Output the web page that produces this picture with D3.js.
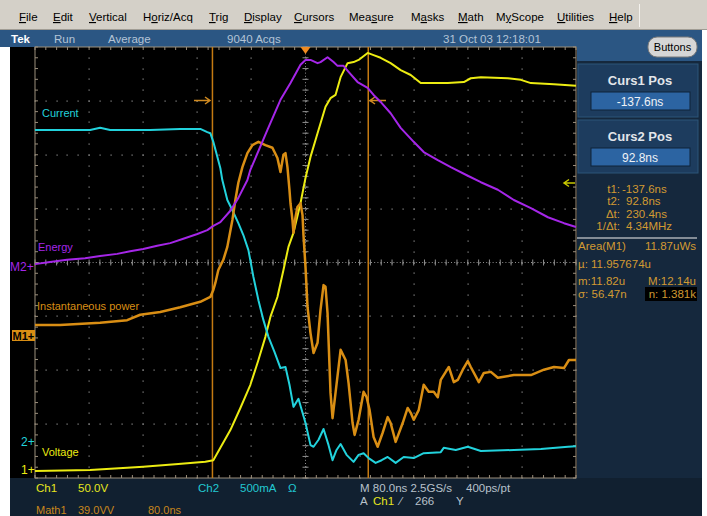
<!DOCTYPE html>
<html>
<head>
<meta charset="utf-8">
<script src="https://cdnjs.cloudflare.com/ajax/libs/d3/7.8.5/d3.min.js"></script>
<style>
  body { margin: 0; background: #fff; }
  svg { display: block; font-family: "Liberation Sans", Arial, sans-serif; }
</style>
</head>
<body>
<div id="scope"></div>
<script>
// time in ns (80 ns/div, trigger at 0), values in screen divisions
var currentT = [-400,-318.5,-303.7,-288.9,-229.6,-185.2,-155.6,-145.2,-140.7,-136.3,-125.9,-123,-115.6,-108.1,-99.3,-91.9,-84.4,-77,-69.6,-62.2,-54.8,-45.9,-37,-29.6,-23.7,-17.8,-10.4,0,7.4,11.9,19.3,26.7,34.1,40,45.9,51.9,60.7,71.1,78.5,85.9,93.3,103.7,112.6,121.5,133.3,145.2,160,174.8,200,204.4,222.2,240,259.3,308.1,348.1,388.1,400];
var currentV = [2.46,2.46,2.50,2.46,2.46,2.48,2.48,2.42,2.40,2.24,1.75,1.53,1.16,0.97,0.73,0.51,0.23,-0.27,-0.70,-1.07,-1.38,-1.66,-1.96,-1.94,-2.27,-2.68,-2.53,-2.98,-3.39,-3.42,-3.29,-3.09,-3.39,-3.67,-3.48,-3.37,-3.57,-3.70,-3.57,-3.54,-3.63,-3.72,-3.67,-3.61,-3.72,-3.61,-3.63,-3.54,-3.52,-3.44,-3.48,-3.42,-3.50,-3.48,-3.46,-3.42,-3.41];

var energyT = [-400,-377.8,-352.6,-325.9,-303.7,-278.5,-259.3,-240,-219.3,-200,-180.7,-160,-145.2,-136.3,-125.9,-111.1,-99.3,-85.9,-81.5,-56.3,-37,-22.2,-7.4,0,7.4,17.8,22.2,32.6,41.5,47.4,56.3,63.7,77,91.9,100.7,111.1,125.9,140.7,160,174.8,195.6,214.8,240,259.3,284.4,308.1,333.3,358.5,382.2,400];
var energyV = [-0.03,0.01,0.05,0.08,0.12,0.16,0.21,0.25,0.31,0.36,0.44,0.53,0.60,0.68,0.75,0.96,1.20,1.53,1.72,2.46,3.02,3.33,3.67,3.76,3.76,3.70,3.72,3.81,3.72,3.65,3.65,3.54,3.35,3.24,3.11,2.98,2.77,2.50,2.24,2.05,1.90,1.77,1.61,1.49,1.35,1.16,1.01,0.84,0.73,0.66];

var voltageT = [-400,-318.5,-263.7,-240,-188.1,-148.1,-136.3,-125.9,-111.1,-96.3,-81.5,-69.6,-59.3,-51.9,-41.5,-32.6,-25.2,-17.8,-7.4,0,7.4,17.8,29.6,37,44.4,51.9,62.2,71.1,78.5,91.9,100.7,111.1,125.9,140.7,155.6,170.4,210.4,234.1,244.4,259.3,299.3,318.5,333.3,367.4,400];
var voltageV = [-3.87,-3.85,-3.81,-3.79,-3.74,-3.70,-3.67,-3.44,-3.11,-2.70,-2.27,-1.81,-1.38,-1.01,-0.64,-0.14,0.29,0.55,1.10,1.57,1.96,2.40,2.89,3.05,3.11,3.44,3.70,3.72,3.76,3.89,3.85,3.80,3.70,3.57,3.48,3.33,3.33,3.35,3.42,3.44,3.42,3.39,3.33,3.31,3.28];

var powerT = [-400,-363,-303.7,-263.7,-244.4,-214.8,-185.2,-155.6,-140.7,-136.3,-133.3,-128.9,-121.5,-115.6,-108.1,-103.7,-99.3,-93.3,-85.9,-78.5,-69.6,-59.3,-48.9,-41.5,-37,-32.6,-29.6,-26.7,-23.7,-22.2,-19.3,-17.8,-14.8,-11.9,-7.4,-4.4,-3,0,3,7.4,11.9,17.8,22.2,26.7,29.6,32.6,37,40,44.4,51.9,59.3,63.7,69.6,72.6,78.5,85.9,90.4,94.8,100.7,106.7,114.1,121.5,125.9,133.3,143.7,151.1,155.6,160,167.4,174.8,182.2,189.6,195.6,200,207.4,211.9,219.3,225.2,232.6,240,244.4,256.3,263.7,274.1,284.4,308.1,333.3,352.6,367.4,382.2,389.6,400];
var powerV = [-1.16,-1.16,-1.12,-1.07,-0.97,-0.92,-0.83,-0.73,-0.64,-0.51,-0.38,-0.14,0.05,0.29,0.79,1.16,1.48,1.77,2.03,2.18,2.24,2.18,2.13,1.94,1.68,2.00,2.03,1.77,1.35,1.10,0.79,0.55,0.84,1.03,1.10,0.88,0.51,-0.08,-0.83,-1.31,-1.68,-1.49,-0.88,-0.42,-0.45,-0.94,-2.42,-2.89,-2.42,-1.62,-1.81,-2.24,-2.98,-3.20,-2.92,-2.40,-2.50,-2.74,-3.24,-3.42,-3.16,-2.87,-2.98,-3.33,-2.98,-2.70,-2.79,-2.92,-2.74,-2.27,-2.40,-2.40,-2.50,-2.18,-2.03,-1.94,-2.22,-2.18,-1.99,-1.83,-1.94,-2.22,-2.05,-2.03,-2.14,-2.09,-2.09,-1.99,-1.94,-1.96,-1.81,-1.81];

var cursorTimes = [-137.6, 92.8];
var menuItems = ["File","Edit","Vertical","Horiz/Acq","Trig","Display","Cursors","Measure","Masks","Math","MyScope","Utilities","Help"];
var menuKeys = [0,0,0,1,0,0,0,3,1,0,1,0,0];
var statusTexts = ["Tek","Run","Average","9040 Acqs","31 Oct 03 12:18:01"];
var cursorLines = [["t1:","-137.6ns"],["t2:","92.8ns"],["\u0394t:","230.4ns"],["1/\u0394t:","4.34MHz"]];

var W = 707, H = 516;
var plotL = 35, plotR = 576, plotT = 47, plotB = 478;

var svg = d3.select("#scope").append("svg")
  .attr("width", W).attr("height", H);

var x = d3.scaleLinear().domain([-400, 400]).range([plotL, plotR]);
var y = d3.scaleLinear().domain([-4, 4]).range([plotB, plotT]);

// ---------- background panels ----------
svg.append("rect").attr("x", 0).attr("y", 0).attr("width", W).attr("height", 30).attr("fill", "#d4d0c8");
svg.append("line").attr("x1", 0).attr("x2", W).attr("y1", 29.5).attr("y2", 29.5).attr("stroke", "#a09c94");
svg.append("line").attr("x1", 639.5).attr("x2", 639.5).attr("y1", 4).attr("y2", 27).attr("stroke", "#f4f2ee");
svg.append("rect").attr("x", 0).attr("y", 30).attr("width", 702).attr("height", 17).attr("fill", "#2b5683");
svg.append("rect").attr("x", 577).attr("y", 47).attr("width", 125).attr("height", 14).attr("fill", "#2b5683");
svg.append("rect").attr("x", 10).attr("y", 47).attr("width", 567).attr("height", 431).attr("fill", "#000");
svg.append("rect").attr("x", 577).attr("y", 61).attr("width", 125).attr("height", 417).attr("fill", "#15283d");
svg.append("rect").attr("x", 10).attr("y", 478).attr("width", 692).attr("height", 38).attr("fill", "#112030");

// menu
var menuX = [19,53,89,143,209,244,294,349,411,458,496,557,609];
var menu = svg.append("g").attr("font-size", 11.5).attr("fill", "#000");
menuItems.forEach(function(m, i) {
  var t = menu.append("text").attr("x", menuX[i]).attr("y", 21);
  var k = menuKeys[i];
  if (k > 0) t.append("tspan").text(m.slice(0, k));
  t.append("tspan").attr("text-decoration", "underline").text(m[k]);
  t.append("tspan").text(m.slice(k + 1));
});

// status bar
var sx = [11, 54, 108, 227, 443];
statusTexts.forEach(function(s, i) {
  svg.append("text").attr("x", sx[i]).attr("y", 43)
    .attr("font-size", 11.5)
    .attr("font-weight", i === 0 ? "bold" : "normal")
    .attr("fill", i === 0 ? "#ffffff" : "#b4c4d6")
    .text(s);
});
svg.append("rect").attr("x", 648).attr("y", 37).attr("width", 49).attr("height", 20).attr("rx", 9)
  .attr("fill", "#d6d6d6").attr("stroke", "#7a7a7a");
svg.append("text").attr("x", 672.5).attr("y", 51).attr("text-anchor", "middle")
  .attr("font-size", 11).attr("fill", "#000").text("Buttons");

// ---------- graticule ----------
var grid = svg.append("g");
var majorT = d3.range(-400, 401, 80);
var majorV = d3.range(-4, 4.01, 1);
var fineT = d3.range(-400, 400.1, 16);
var fineV = d3.range(-4, 4.01, 0.2);
var dotColor = "#8e8e8e", frameColor = "#9c8f7c";

majorT.slice(1, -1).forEach(function(t) {
  fineV.forEach(function(v) {
    grid.append("rect").attr("x", Math.round(x(t)) - 0.5).attr("y", Math.round(y(v)) - 0.5).attr("width", 1.2).attr("height", 1.2).attr("fill", dotColor);
  });
});
majorV.slice(1, -1).forEach(function(v) {
  fineT.forEach(function(t) {
    grid.append("rect").attr("x", Math.round(x(t)) - 0.5).attr("y", Math.round(y(v)) - 0.5).attr("width", 1.2).attr("height", 1.2).attr("fill", dotColor);
  });
});
// centre lines with graduation
grid.append("line").attr("x1", x(0)).attr("x2", x(0)).attr("y1", plotT).attr("y2", plotB)
  .attr("stroke", dotColor).attr("stroke-dasharray", "1,2.2");
grid.append("line").attr("x1", plotL).attr("x2", plotR).attr("y1", y(0)).attr("y2", y(0))
  .attr("stroke", dotColor).attr("stroke-dasharray", "1,2.2");
fineV.forEach(function(v) {
  grid.append("line").attr("x1", x(0) - 3).attr("x2", x(0) + 3).attr("y1", y(v)).attr("y2", y(v)).attr("stroke", dotColor);
});
fineT.forEach(function(t) {
  grid.append("line").attr("x1", x(t)).attr("x2", x(t)).attr("y1", y(0) - 3).attr("y2", y(0) + 3).attr("stroke", dotColor);
});
// frame with edge ticks
grid.append("rect").attr("x", plotL).attr("y", plotT).attr("width", plotR - plotL).attr("height", plotB - plotT)
  .attr("fill", "none").attr("stroke", frameColor);
fineT.forEach(function(t) {
  grid.append("line").attr("x1", x(t)).attr("x2", x(t)).attr("y1", plotT).attr("y2", plotT + 3).attr("stroke", frameColor);
  grid.append("line").attr("x1", x(t)).attr("x2", x(t)).attr("y1", plotB - 3).attr("y2", plotB).attr("stroke", frameColor);
});
fineV.forEach(function(v) {
  grid.append("line").attr("x1", plotL).attr("x2", plotL + 3).attr("y1", y(v)).attr("y2", y(v)).attr("stroke", frameColor);
  grid.append("line").attr("x1", plotR - 3).attr("x2", plotR).attr("y1", y(v)).attr("y2", y(v)).attr("stroke", frameColor);
});

// ---------- cursors ----------
cursorTimes.forEach(function(t) {
  svg.append("line").attr("x1", x(t)).attr("x2", x(t)).attr("y1", plotT).attr("y2", plotB)
    .attr("stroke", "#c47a12").attr("stroke-width", 1.5);
});
svg.append("path").attr("d", "M194,100.5H209M205,97L210,100.5L205,104").attr("stroke", "#d08a20").attr("fill", "none").attr("stroke-width", 1.5);
svg.append("path").attr("d", "M386,100.5H371M375,97L370,100.5L375,104").attr("stroke", "#d08a20").attr("fill", "none").attr("stroke-width", 1.5);
svg.append("path").attr("d", "M" + (x(0) - 5) + ",47L" + (x(0) + 5) + ",47L" + x(0) + ",54Z").attr("fill", "#f08a20");
svg.append("path").attr("d", "M575,183H565M569,179.5L564,183L569,186.5").attr("stroke", "#c8c800").attr("fill", "none").attr("stroke-width", 1.5);

// ---------- traces ----------
var line = d3.line().x(function(d) { return x(d[0]); }).y(function(d) { return y(d[1]); });
var traces = [
  { t: voltageT, v: voltageV, c: "#ecec12", w: 2 },
  { t: currentT, v: currentV, c: "#22d2dc", w: 2 },
  { t: powerT, v: powerV, c: "#d98e14", w: 2.5 },
  { t: energyT, v: energyV, c: "#a526e8", w: 2 }
];
traces.forEach(function(tr) {
  svg.append("path").datum(d3.zip(tr.t, tr.v)).attr("d", line)
    .attr("fill", "none").attr("stroke", tr.c).attr("stroke-width", tr.w).attr("stroke-linejoin", "round");
});

// trace labels
var labels = [
  ["Current", 42, 117, "#22d2dc"],
  ["Energy", 38, 251, "#a526e8"],
  ["Instantaneous power", 37, 310, "#d98e14"],
  ["Voltage", 42, 456, "#ecec12"]
];
labels.forEach(function(l) {
  svg.append("text").attr("x", l[1]).attr("y", l[2]).attr("font-size", 11).attr("fill", l[3]).text(l[0]);
});

// reference markers on the left
svg.append("text").attr("x", 10).attr("y", 271).attr("font-size", 12).attr("fill", "#a526e8").text("M2+");
svg.append("rect").attr("x", 12).attr("y", 330).attr("width", 23).attr("height", 11).attr("fill", "#d98e14");
svg.append("text").attr("x", 12.5).attr("y", 340).attr("font-size", 11).attr("font-weight", "bold").attr("fill", "#000").text("M1+");
svg.append("text").attr("x", 21).attr("y", 446).attr("font-size", 12).attr("fill", "#22d2dc").text("2+");
svg.append("text").attr("x", 21).attr("y", 474).attr("font-size", 12).attr("fill", "#ecec12").text("1+");

// ---------- bottom readout ----------
var bot = svg.append("g").attr("font-size", 11.5);
bot.append("text").attr("x", 36).attr("y", 492).attr("fill", "#e6e61e").text("Ch1");
bot.append("text").attr("x", 78).attr("y", 492).attr("fill", "#e6e61e").text("50.0V");
bot.append("text").attr("x", 198).attr("y", 492).attr("fill", "#22c8d2").text("Ch2");
bot.append("text").attr("x", 240).attr("y", 492).attr("fill", "#22c8d2").text("500mA");
bot.append("text").attr("x", 288).attr("y", 492).attr("fill", "#22c8d2").text("\u03a9");
bot.append("text").attr("x", 36).attr("y", 514).attr("font-size", 11).attr("fill", "#c8861c").text("Math1");
bot.append("text").attr("x", 78).attr("y", 514).attr("font-size", 11).attr("fill", "#c8861c").text("39.0VV");
bot.append("text").attr("x", 148).attr("y", 514).attr("font-size", 11).attr("fill", "#c8861c").text("80.0ns");
bot.append("text").attr("x", 360).attr("y", 492).attr("fill", "#b8c2cc").text("M 80.0ns 2.5GS/s");
bot.append("text").attr("x", 466).attr("y", 492).attr("fill", "#b8c2cc").text("400ps/pt");
bot.append("text").attr("x", 360).attr("y", 505).attr("fill", "#b8c2cc").text("A");
bot.append("text").attr("x", 373).attr("y", 505).attr("fill", "#e6e61e").text("Ch1");
bot.append("text").attr("x", 400).attr("y", 505).attr("fill", "#b8c2cc").text("\u2215");
bot.append("text").attr("x", 415).attr("y", 505).attr("fill", "#b8c2cc").text("266");
bot.append("text").attr("x", 456).attr("y", 505).attr("fill", "#b8c2cc").text("Y");

// ---------- right panel ----------
var panel = svg.append("g");
[["Curs1 Pos", "-137.6ns", 64], ["Curs2 Pos", "92.8ns", 120]].forEach(function(b) {
  panel.append("rect").attr("x", 578).attr("y", b[2]).attr("width", 120).attr("height", 53)
    .attr("fill", "#1d3c5e").attr("stroke", "#2d5478");
  panel.append("text").attr("x", 640).attr("y", b[2] + 21).attr("text-anchor", "middle")
    .attr("font-size", 13).attr("font-weight", "bold").attr("fill", "#e2e6ea").text(b[0]);
  panel.append("rect").attr("x", 591).attr("y", b[2] + 28).attr("width", 99).attr("height", 18)
    .attr("fill", "#2c64a2").attr("stroke", "#0e2238");
  panel.append("text").attr("x", 640).attr("y", b[2] + 42).attr("text-anchor", "middle")
    .attr("font-size", 12).attr("fill", "#eef2f6").text(b[1]);
});
cursorLines.forEach(function(c, i) {
  panel.append("text").attr("x", 620).attr("y", 193 + i * 12.3).attr("text-anchor", "end")
    .attr("font-size", 11.5).attr("fill", "#d29a32").text(c[0]);
  panel.append("text").attr("x", i === 0 ? 622 : 626).attr("y", 193 + i * 12.3)
    .attr("font-size", 11.5).attr("fill", "#d29a32").text(c[1]);
});
panel.append("line").attr("x1", 577).attr("x2", 697).attr("y1", 238).attr("y2", 238).attr("stroke", "#a8aeb4").attr("stroke-width", 1.5);
var meas = panel.append("g").attr("font-size", 11.5).attr("fill", "#d29a32");
meas.append("text").attr("x", 578).attr("y", 250).text("Area(M1)");
meas.append("text").attr("x", 696).attr("y", 250).attr("text-anchor", "end").text("11.87uWs");
meas.append("text").attr("x", 578).attr("y", 268).text("\u00b5: 11.957674u");
meas.append("text").attr("x", 578).attr("y", 285).text("m:11.82u");
meas.append("text").attr("x", 696).attr("y", 285).attr("text-anchor", "end").text("M:12.14u");
meas.append("rect").attr("x", 645).attr("y", 287).attr("width", 52).attr("height", 14).attr("fill", "#000");
meas.append("text").attr("x", 578).attr("y", 298).text("\u03c3: 56.47n");
meas.append("text").attr("x", 696).attr("y", 298).attr("text-anchor", "end").text("n:  1.381k");
</script>
</body>
</html>
